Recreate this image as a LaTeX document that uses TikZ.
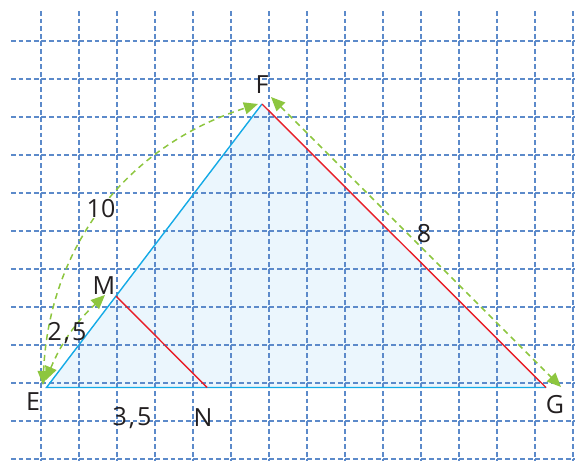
\documentclass[tikz,border=0pt]{standalone}
\usepackage{fontspec}
\setmainfont{Open Sans}
\usepackage{tikz}
\usetikzlibrary{arrows.meta, calc}

\definecolor{cuadricula}{RGB}{92,138,202}
\definecolor{azul}{RGB}{20,170,230}
\definecolor{rojo}{RGB}{232,30,40}
\definecolor{verde}{RGB}{141,198,63}
\definecolor{relleno}{RGB}{235,246,253}
\definecolor{tinta}{RGB}{35,31,32}

\begin{document}
\begin{tikzpicture}[x=1pt, y=-1pt, text=tinta,
    rejilla/.style={draw=cuadricula, line width=1.8pt, dash pattern=on 4.8pt off 2.8pt},
    lado/.style={line width=1.4pt},
    cota/.style={draw=verde, line width=1.5pt, dash pattern=on 6pt off 4.5pt,
        {Triangle[length=14pt,width=12pt]}-{Triangle[length=14pt,width=12pt]}},
    etiqueta/.style={font=\fontsize{25}{30}\selectfont, inner sep=0pt, anchor=base}]
        \useasboundingbox (0,0) rectangle (575,461);

        % Vertices del triangulo
        \coordinate (E) at (46.5,387.5);
        \coordinate (F) at (262,104);
        \coordinate (G) at (546,387.5);
        \coordinate (M) at ($(E)!0.3225!(F)$);
        \coordinate (N) at ($(E)!0.3215!(G)$);

        % Relleno y cuadricula
        \fill[relleno] (E) -- (F) -- (G) -- cycle;
        \foreach \i in {0,...,14}
            \draw[rejilla] (40.7+38*\i,11) -- (40.7+38*\i,461);
        \foreach \j in {0,...,11}
            \draw[rejilla] (11,41.3+38*\j) -- (575,41.3+38*\j);

        % Lados
        \draw[lado, azul] (G) -- (E) -- (F);
        \draw[lado, rojo] (F) -- (G);
        \draw[lado, rojo] (M) -- (N);

        % Extremos de las cotas
        \coordinate (e1) at (43,385);
        \coordinate (f1) at (258,104);
        \coordinate (e2) at (45.5,380.5);
        \coordinate (m1) at (105,295);
        \coordinate (f2) at (271,97);
        \coordinate (g1) at (561,387);

        \draw[cota] (e1) to[bend left=35] (f1);
        \draw[cota] (e2) to[bend left=12] (m1);
        \draw[cota] (f2) -- (g1);

        % Etiquetas
        \node[etiqueta] (lF) at (262,93) {F};
        \node[etiqueta] (lE) at (33,410) {E};
        \node[etiqueta] (lG) at (555,413) {G};
        \node[etiqueta] (lM) at (104,294) {M};
        \node[etiqueta] (lN) at (203,426) {N};
        \node[etiqueta] (lEN) at (132,425) {3\kern2pt,\kern2pt5};
        \node[etiqueta] (lEM) at (67,340) {2\kern2pt,\kern2pt5};
        \node[etiqueta, fill=white, inner sep=0.5pt] (lEF) at (101,217) {10};
        \node[etiqueta] (lFG) at (424,242) {8};

    \end{tikzpicture}
\end{document}
